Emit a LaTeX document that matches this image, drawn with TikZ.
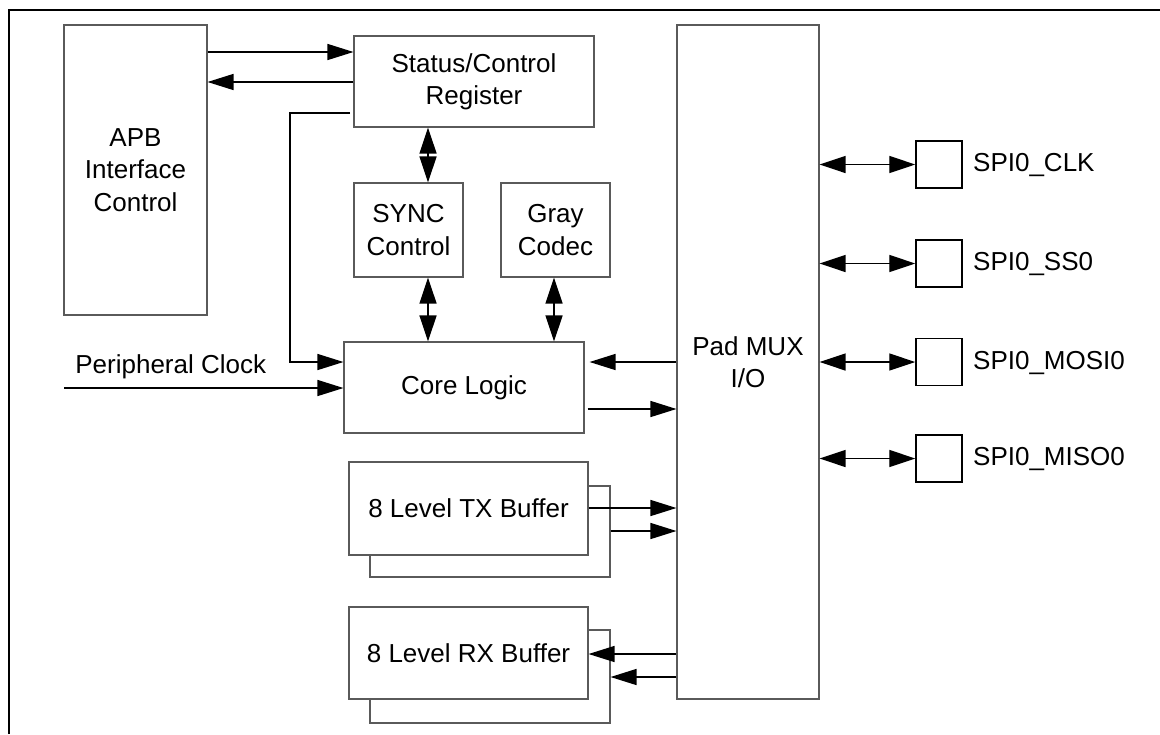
\documentclass[tikz,border=0pt]{standalone}
\usepackage{fontspec}
\setmainfont{Liberation Sans}
\usetikzlibrary{arrows.meta,positioning}
\definecolor{boxgray}{HTML}{5A5A5A}

\begin{document}
\begin{tikzpicture}[x=0.5pt,y=-0.5pt,
    font=\fontsize{13}{16.2}\selectfont,
    blk/.style={draw=boxgray,line width=0.55pt,fill=white,align=center,inner sep=0pt},
    pin/.style={draw,line width=0.75pt,minimum width=23pt,minimum height=23.5pt,inner sep=0pt},
    pinlbl/.style={inner sep=0pt,text height=9.3pt,text depth=0pt,yshift=1pt},
    arr/.style={line width=0.7pt,-{Triangle[length=13pt,width=8pt]}},
    darr/.style={line width=0.7pt,{Triangle[length=13pt,width=8.5pt]}-{Triangle[length=13pt,width=8.5pt]}}]
    \useasboundingbox (0,0) rectangle (1160,734);
    \draw[line width=1pt] (9,734) -- (9,10) -- (1160,10);
    \node[blk,minimum width=71.5pt,minimum height=145pt] (apb) at (135.5,170) {APB\\Interface\\Control};
    \node[blk,minimum width=120pt,minimum height=45.5pt] (stat) at (474,81.5) {Status/Control\\Register};
    \node[blk,minimum width=54.5pt,minimum height=47pt] (sync) at (408.5,230) {SYNC\\Control};
    \node[blk,minimum width=54.5pt,minimum height=47pt] (gray) at (555.5,230) {Gray\\Codec};
    \node[blk,minimum width=120pt,minimum height=45.5pt] (core) at (464,387.5) {Core Logic};
    \node[blk,minimum width=120pt,minimum height=45.5pt] (txback) at (490,531.5) {};
    \node[blk,minimum width=119.5pt,minimum height=46.5pt] (txb) at (468.5,508.5) {8 Level TX Buffer};
    \node[blk,minimum width=120pt,minimum height=46.5pt] (rxback) at (490,676.5) {};
    \node[blk,minimum width=119.5pt,minimum height=46pt] (rxb) at (468.5,653) {8 Level RX Buffer};
    \node[blk,minimum width=71pt,minimum height=337pt] (pad) at (748,362) {Pad MUX\\I/O};
    \node[pin] (clk) at (939,164.5) {};
    \node[pin] (ss) at (939,263.5) {};
    \node[pin] (mosi) at (939,362) {};
    \node[pin] (miso) at (939,458.5) {};
    \node[pinlbl,right=5pt of clk] (clklbl) {SPI0\_CLK};
    \node[pinlbl,right=5pt of ss] (sslbl) {SPI0\_SS0};
    \node[pinlbl,right=5pt of mosi] (mosilbl) {SPI0\_MOSI0};
    \node[pinlbl,right=5pt of miso] (misolbl) {SPI0\_MISO0};
    \node[anchor=base west,inner sep=0pt] (pclk) at (75,373.5) {Peripheral Clock};
    \coordinate (clkin) at (64,388);
    \coordinate (fbtop) at (350,113);
    \coordinate (fbcnr) at (290,362);
    \draw[arr] (apb.east |- 0,52) -- (stat.west |- 0,52);
    \draw[arr] (stat.west |- 0,82) -- (apb.east |- 0,82);
    \draw[arr] (fbtop) -| (fbcnr) -- (fbcnr -| core.west);
    \draw[arr] (clkin) -- (clkin -| core.west);
    \draw[darr] (stat.south -| 428,0) -- (sync.north -| 428,0);
    \draw[darr] (sync.south -| 428,0) -- (core.north -| 428,0);
    \draw[darr] (gray.south -| 554,0) -- (core.north -| 554,0);
    \draw[arr,shorten >=2.5pt] (pad.west |- 0,362) -- (core.east |- 0,362);
    \draw[arr,shorten <=1.5pt] (core.east |- 0,409) -- (pad.west |- 0,409);
    \draw[arr] (txb.east |- 0,508) -- (pad.west |- 0,508);
    \draw[arr] (txback.east |- 0,531) -- (pad.west |- 0,531);
    \draw[arr] (pad.west |- 0,654) -- (rxb.east |- 0,654);
    \draw[arr] (pad.west |- 0,677) -- (rxback.east |- 0,677);
    \foreach \p in {clk,ss,mosi,miso}
      \draw[darr] (pad.east |- \p) -- (\p.west);
  \end{tikzpicture}
\end{document}
